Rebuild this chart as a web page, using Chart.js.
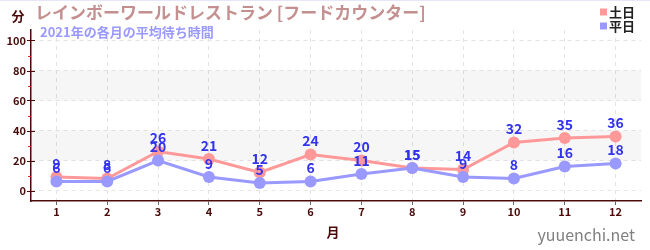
<!DOCTYPE html>
<html>
<head>
<meta charset="utf-8">
<script src="https://cdn.jsdelivr.net/npm/chart.js@4"></script>
<style>
  body { margin: 0; background: #fff; }
  #wrap { width: 650px; height: 250px; }
</style>
</head>
<body>
<div id="wrap"><canvas id="myChart" width="650" height="250"></canvas></div>
<script>
// data
var months = ['1', '2', '3', '4', '5', '6', '7', '8', '9', '10', '11', '12'];
var weekendWait = [9, 8, 26, 21, 12, 24, 20, 15, 14, 32, 35, 36];   // 土日
var weekdayWait = [6, 6, 20, 9, 5, 6, 11, 15, 9, 8, 16, 18];        // 平日
var yTicks = [0, 20, 40, 60, 80, 100];
var yMinorTicks = [10, 30, 50, 70, 90];
var bands = [[20, 40], [60, 80]];

var FONT = '"Noto Sans CJK JP", "Noto Sans", sans-serif';
var MAROON = '#4a0a0a';

Chart.defaults.font.family = FONT;

// grey bands, cross ticks, point labels and the texts round the chart
var decorPlugin = {
    id: 'decor',
    beforeDatasetsDraw: function (chart) {
        var c = chart.ctx, a = chart.chartArea, y = chart.scales.y;
        c.save();
        c.fillStyle = 'rgba(0,0,0,0.035)';
        bands.forEach(function (b) {
            var y1 = y.getPixelForValue(b[1]), y2 = y.getPixelForValue(b[0]);
            c.fillRect(a.left, y1, a.right - a.left, y2 - y1);
        });
        c.restore();
    },
    afterDraw: function (chart) {
        var c = chart.ctx, a = chart.chartArea, y = chart.scales.y;
        c.save();

        // top border line
        c.fillStyle = '#e6e6fa';
        c.fillRect(0, 0, 650, 1);

        // y ticks
        c.lineWidth = 1;
        c.strokeStyle = MAROON;
        yTicks.forEach(function (v) {
            var py = Math.round(y.getPixelForValue(v)) + 0.5;
            c.beginPath(); c.moveTo(a.left - 4, py); c.lineTo(a.left + 4, py); c.stroke();
        });
        c.strokeStyle = '#e02020';
        yMinorTicks.forEach(function (v) {
            var py = Math.round(y.getPixelForValue(v)) + 0.5;
            c.beginPath(); c.moveTo(a.left - 3, py); c.lineTo(a.left, py); c.stroke();
        });

        // value labels
        c.fillStyle = '#3333ee';
        c.font = 'bold 14px ' + FONT;
        c.textAlign = 'center';
        c.textBaseline = 'middle';
        chart.data.datasets.forEach(function (ds, i) {
            chart.getDatasetMeta(i).data.forEach(function (pt, j) {
                c.fillText(String(ds.data[j]), pt.x, pt.y - 13.5);
            });
        });

        // title + subtitle
        c.textAlign = 'left';
        c.fillStyle = '#c48f8f';
        c.font = 'bold 17px ' + FONT;
        c.fillText('レインボーワールドレストラン [フードカウンター]', 35, 13);
        c.fillStyle = '#9999ff';
        c.font = 'bold 13px ' + FONT;
        c.fillText('2021年の各月の平均待ち時間', 40, 32);

        // unit labels
        c.fillStyle = MAROON;
        c.textAlign = 'center';
        c.font = 'bold 13px ' + FONT;
        c.fillText('分', 18, 16);
        c.fillText('月', (a.left + a.right) / 2 - 3, 232);

        // legend
        var legend = [['土日', '#ff9999'], ['平日', '#9999ff']];
        c.textAlign = 'left';
        c.font = 'bold 13px ' + FONT;
        legend.forEach(function (l, i) {
            var ly = 12 + i * 14;
            c.fillStyle = l[1];
            c.fillRect(600, ly - 3.5, 7, 7);
            c.fillStyle = '#222';
            c.fillText(l[0], 609, ly);
        });

        // watermark
        c.fillStyle = '#808080';
        c.textAlign = 'right';
        c.font = '16px ' + FONT;
        c.fillText('yuuenchi.net', 635, 235);

        c.restore();
    }
};

var ctx = document.getElementById('myChart').getContext('2d');

var myChart = new Chart(ctx, {
    type: 'line',
    data: {
        labels: months,
        datasets: [{
            label: '土日',
            data: weekendWait,
            borderColor: '#ff9999',
            backgroundColor: '#ff9999',
            borderWidth: 3,
            pointRadius: 6,
            pointHoverRadius: 6,
            pointBorderWidth: 0,
            order: 1
        }, {
            label: '平日',
            data: weekdayWait,
            borderColor: '#9999ff',
            backgroundColor: '#9999ff',
            borderWidth: 3,
            pointRadius: 6,
            pointHoverRadius: 6,
            pointBorderWidth: 0,
            order: 0
        }]
    },
    options: {
        responsive: false,
        animation: false,
        layout: {
            padding: { top: 30, right: 9, left: 0, bottom: 0 }
        },
        plugins: {
            legend: { display: false },
            tooltip: { enabled: false }
        },
        scales: {
            x: {
                offset: true,
                afterFit: function (s) { s.height = 49; },
                grid: {
                    offset: false,
                    color: '#e4e4e4',
                    tickColor: '#666',
                    tickLength: 4
                },
                border: { color: MAROON, width: 1.5, dash: [4, 4] },
                ticks: {
                    color: MAROON,
                    font: { size: 11, weight: 'bold' },
                    padding: 0,
                    maxRotation: 0
                }
            },
            y: {
                min: -7,
                max: 107,
                afterFit: function (s) { s.width = 31; },
                afterBuildTicks: function (s) {
                    s.ticks = yTicks.map(function (v) { return { value: v }; });
                },
                grid: {
                    color: '#e4e4e4',
                    drawTicks: false
                },
                border: { color: MAROON, width: 1.5, dash: [4, 4] },
                ticks: {
                    color: MAROON,
                    font: { size: 11, weight: 'bold' },
                    padding: 5
                }
            }
        }
    },
    plugins: [decorPlugin]
});
</script>
</body>
</html>
